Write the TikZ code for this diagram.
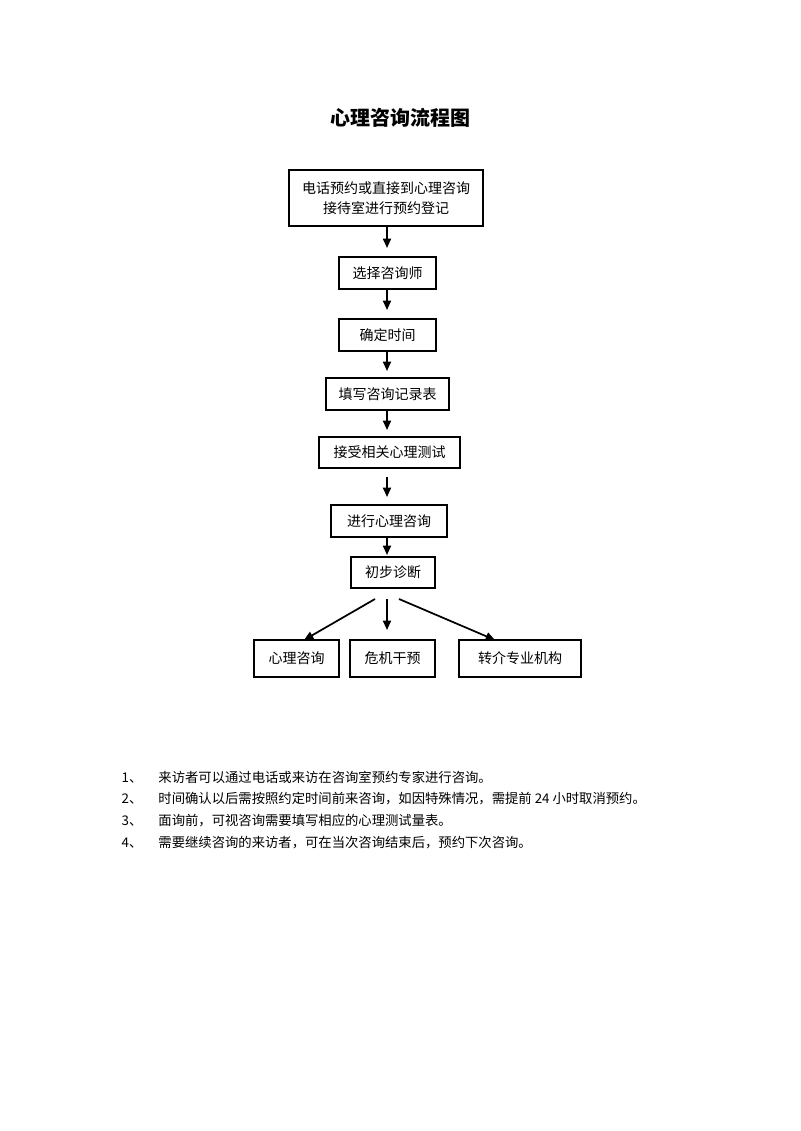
\documentclass[tikz,border=0pt]{standalone}
\usepackage{fontspec}
\setmainfont{Noto Sans CJK SC}
\usetikzlibrary{arrows.meta}
\begin{document}
\begin{tikzpicture}[x=0.75pt,y=-0.75pt,
  box/.style={draw,line width=0.9pt,inner sep=0pt,font=\fontsize{10.5}{15}\selectfont,align=center},
  arr/.style={-{Triangle[length=7pt,width=6pt]},line width=1.3pt},
  note/.style={anchor=west,font=\fontsize{10}{12}\selectfont}]
\useasboundingbox[fill=white] (0,0) rectangle (800,1131);
\node[font=\bfseries\fontsize{15}{18}\selectfont] (title) at (400,118) {心理咨询流程图};
\node[box,minimum width=194*0.75pt,minimum height=56*0.75pt] (b1) at (386,198) {电话预约或直接到心理咨询\\接待室进行预约登记};
\node[box,minimum width=97*0.75pt,minimum height=32*0.75pt] (b2) at (387.5,273) {选择咨询师};
\node[box,minimum width=97*0.75pt,minimum height=32*0.75pt] (b3) at (387.5,335) {确定时间};
\node[box,minimum width=123*0.75pt,minimum height=32*0.75pt] (b4) at (387.5,394) {填写咨询记录表};
\node[box,minimum width=141*0.75pt,minimum height=31*0.75pt] (b5) at (389.5,452.5) {接受相关心理测试};
\node[box,minimum width=116*0.75pt,minimum height=32*0.75pt] (b6) at (389,521) {进行心理咨询};
\node[box,minimum width=84*0.75pt,minimum height=31*0.75pt] (b7) at (393,572.5) {初步诊断};
\node[box,minimum width=85*0.75pt,minimum height=37*0.75pt] (c1) at (296.5,658.5) {心理咨询};
\node[box,minimum width=85*0.75pt,minimum height=37*0.75pt] (c2) at (392.5,658.5) {危机干预};
\node[box,minimum width=122*0.75pt,minimum height=37*0.75pt] (c3) at (520,658.5) {转介专业机构};
\coordinate (a1s) at (387,226); \coordinate (a1e) at (387,248);
\coordinate (a2s) at (387,289); \coordinate (a2e) at (387,310);
\coordinate (a3s) at (387,351); \coordinate (a3e) at (387,371);
\coordinate (a4s) at (387,410); \coordinate (a4e) at (387,430);
\coordinate (a5s) at (387,477); \coordinate (a5e) at (387,497);
\coordinate (a6s) at (387,537); \coordinate (a6e) at (387,555);
\coordinate (l1) at (375,599); \coordinate (l2) at (387,599); \coordinate (l3) at (399,599);
\coordinate (t1) at (304,640); \coordinate (t2) at (387,630); \coordinate (t3) at (495,640);
\draw[arr] (a1s)--(a1e); \draw[arr] (a2s)--(a2e); \draw[arr] (a3s)--(a3e);
\draw[arr] (a4s)--(a4e); \draw[arr] (a5s)--(a5e); \draw[arr] (a6s)--(a6e);
\draw[arr] (l1)--(t1); \draw[arr] (l2)--(t2); \draw[arr] (l3)--(t3);
\node[note] (n1) at (117,777) {1、\hspace{1.2em}来访者可以通过电话或来访在咨询室预约专家进行咨询。};
\node[note] (n2) at (117,799) {2、\hspace{1.2em}时间确认以后需按照约定时间前来咨询，如因特殊情况，需提前 24 小时取消预约。};
\node[note] (n3) at (117,821) {3、\hspace{1.2em}面询前，可视咨询需要填写相应的心理测试量表。};
\node[note] (n4) at (117,843) {4、\hspace{1.2em}需要继续咨询的来访者，可在当次咨询结束后，预约下次咨询。};
\end{tikzpicture}
\end{document}
